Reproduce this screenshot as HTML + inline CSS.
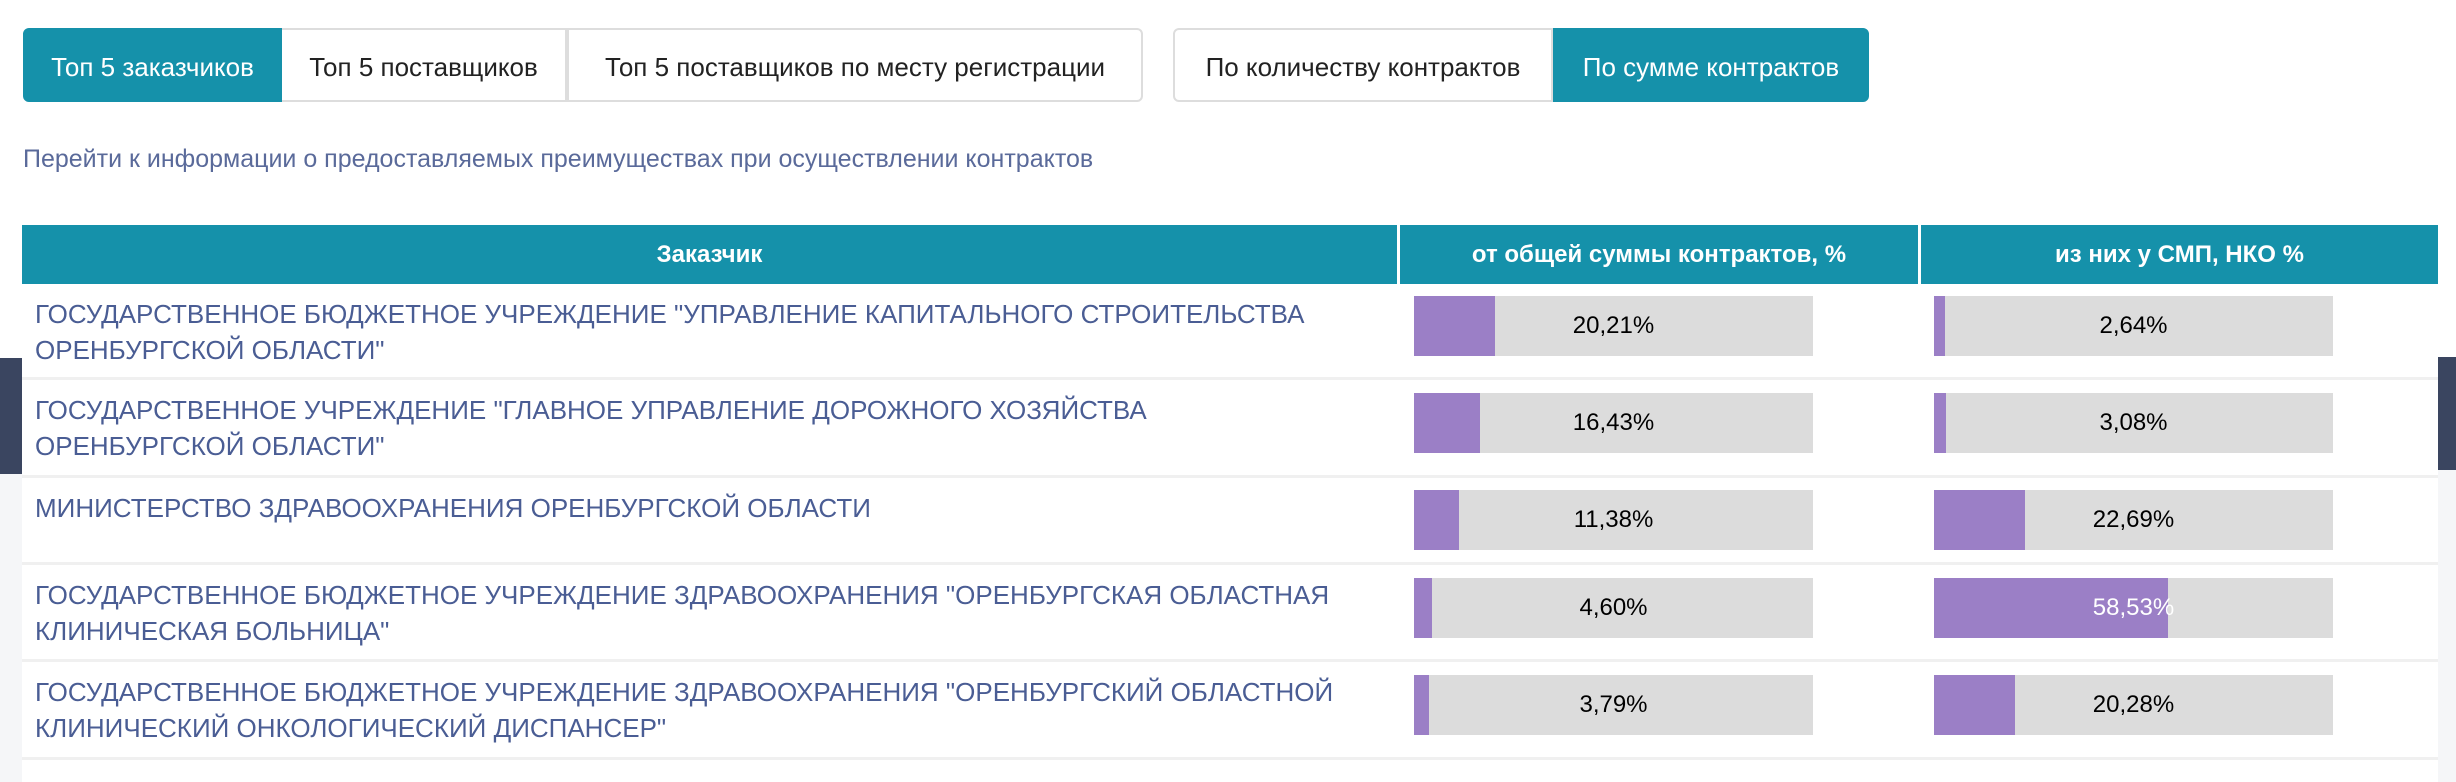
<!DOCTYPE html>
<html><head><meta charset="utf-8"><style>
body{margin:0;width:2456px;height:782px;background:#fff;position:relative;overflow:hidden;font-family:"Liberation Sans",sans-serif}
.abs{position:absolute}
.tab{position:absolute;top:28px;height:74px;line-height:74px;font-size:26px;color:#222;text-align:center;box-sizing:border-box;border:2px solid #ddd;background:#fff}
.act{background:#1591aa;color:#fff;border-color:#1591aa}
.hd{position:absolute;top:225px;height:59px;line-height:59px;background:#1591aa;color:#fff;font-weight:bold;font-size:24px;text-align:center}
.row{position:absolute;left:22px;width:2416px;border-bottom:3px solid #f0f0f0;box-sizing:border-box}
.name{position:absolute;left:13px;top:12px;width:1350px;color:#4a5d94;font-size:26px;line-height:36px}
.bar{position:absolute;width:399px;height:60px;background:#dcdcdc}
.fill{position:absolute;left:0;top:0;height:100%;background:#9b7fc6}
.lbl{position:absolute;left:0;top:0;width:100%;height:100%;line-height:60px;text-align:center;font-size:24px;color:#000}
</style></head><body>
<div class="abs" style="left:0;top:358px;width:22px;height:116px;background:#3a4560"></div>
<div class="abs" style="left:0;top:474px;width:22px;height:308px;background:#f5f6f8"></div>
<div class="abs" style="left:2438px;top:357px;width:18px;height:113px;background:#3a4560"></div>
<div class="abs" style="left:2438px;top:470px;width:18px;height:312px;background:#f5f6f8"></div>

<div class="tab act" style="left:23px;width:259px;border-radius:6px 0 0 6px">Топ 5 заказчиков</div>
<div class="tab" style="left:282px;width:285px;border-left:none">Топ 5 поставщиков</div>
<div class="tab" style="left:567px;width:576px;border-radius:0 6px 6px 0">Топ 5 поставщиков по месту регистрации</div>
<div class="tab" style="left:1173px;width:380px;border-radius:6px 0 0 6px">По количеству контрактов</div>
<div class="tab act" style="left:1553px;width:316px;border-radius:0 6px 6px 0">По сумме контрактов</div>

<div class="abs" style="left:23px;top:145px;font-size:25px;color:#5a6a9a">Перейти к информации о предоставляемых преимуществах при осуществлении контрактов</div>

<div class="hd" style="left:22px;width:1375px">Заказчик</div>
<div class="hd" style="left:1400px;width:518px">от общей суммы контрактов, %</div>
<div class="hd" style="left:1921px;width:517px">из них у СМП, НКО %</div>

<div id="rows"></div>
<script>
const names=["ГОСУДАРСТВЕННОЕ БЮДЖЕТНОЕ УЧРЕЖДЕНИЕ \"УПРАВЛЕНИЕ КАПИТАЛЬНОГО СТРОИТЕЛЬСТВА<br>ОРЕНБУРГСКОЙ ОБЛАСТИ\"","ГОСУДАРСТВЕННОЕ УЧРЕЖДЕНИЕ \"ГЛАВНОЕ УПРАВЛЕНИЕ ДОРОЖНОГО ХОЗЯЙСТВА<br>ОРЕНБУРГСКОЙ ОБЛАСТИ\"","МИНИСТЕРСТВО ЗДРАВООХРАНЕНИЯ ОРЕНБУРГСКОЙ ОБЛАСТИ","ГОСУДАРСТВЕННОЕ БЮДЖЕТНОЕ УЧРЕЖДЕНИЕ ЗДРАВООХРАНЕНИЯ \"ОРЕНБУРГСКАЯ ОБЛАСТНАЯ<br>КЛИНИЧЕСКАЯ БОЛЬНИЦА\"","ГОСУДАРСТВЕННОЕ БЮДЖЕТНОЕ УЧРЕЖДЕНИЕ ЗДРАВООХРАНЕНИЯ \"ОРЕНБУРГСКИЙ ОБЛАСТНОЙ<br>КЛИНИЧЕСКИЙ ОНКОЛОГИЧЕСКИЙ ДИСПАНСЕР\""];
const totalShare=[20.21,16.43,11.38,4.60,3.79];
const smpShare=[2.64,3.08,22.69,58.53,20.28];
const rowTops=[284,380,478,565,662];
const rowBottoms=[380,478,565,662,760];
const barTops=[296,393,490,578,675];
const fmt=v=>v.toFixed(2).replace('.',',')+'%';
const scale=v=>v/100*399;
const root=document.getElementById('rows');
let html='';
for(let i=0;i<names.length;i++){
  html+=`<div class="row" style="top:${rowTops[i]}px;height:${rowBottoms[i]-rowTops[i]}px"><div class="name">${names[i]}</div></div>`;
  html+=`<div class="bar" style="left:1414px;top:${barTops[i]}px"><div class="fill" style="width:${scale(totalShare[i])}px"></div><div class="lbl">${fmt(totalShare[i])}</div></div>`;
  const white=smpShare[i]>50;
  html+=`<div class="bar" style="left:1934px;top:${barTops[i]}px"><div class="fill" style="width:${scale(smpShare[i])}px"></div><div class="lbl" style="${white?'color:#fff':''}">${fmt(smpShare[i])}</div></div>`;
}
root.innerHTML=html;
</script>
</body></html>
